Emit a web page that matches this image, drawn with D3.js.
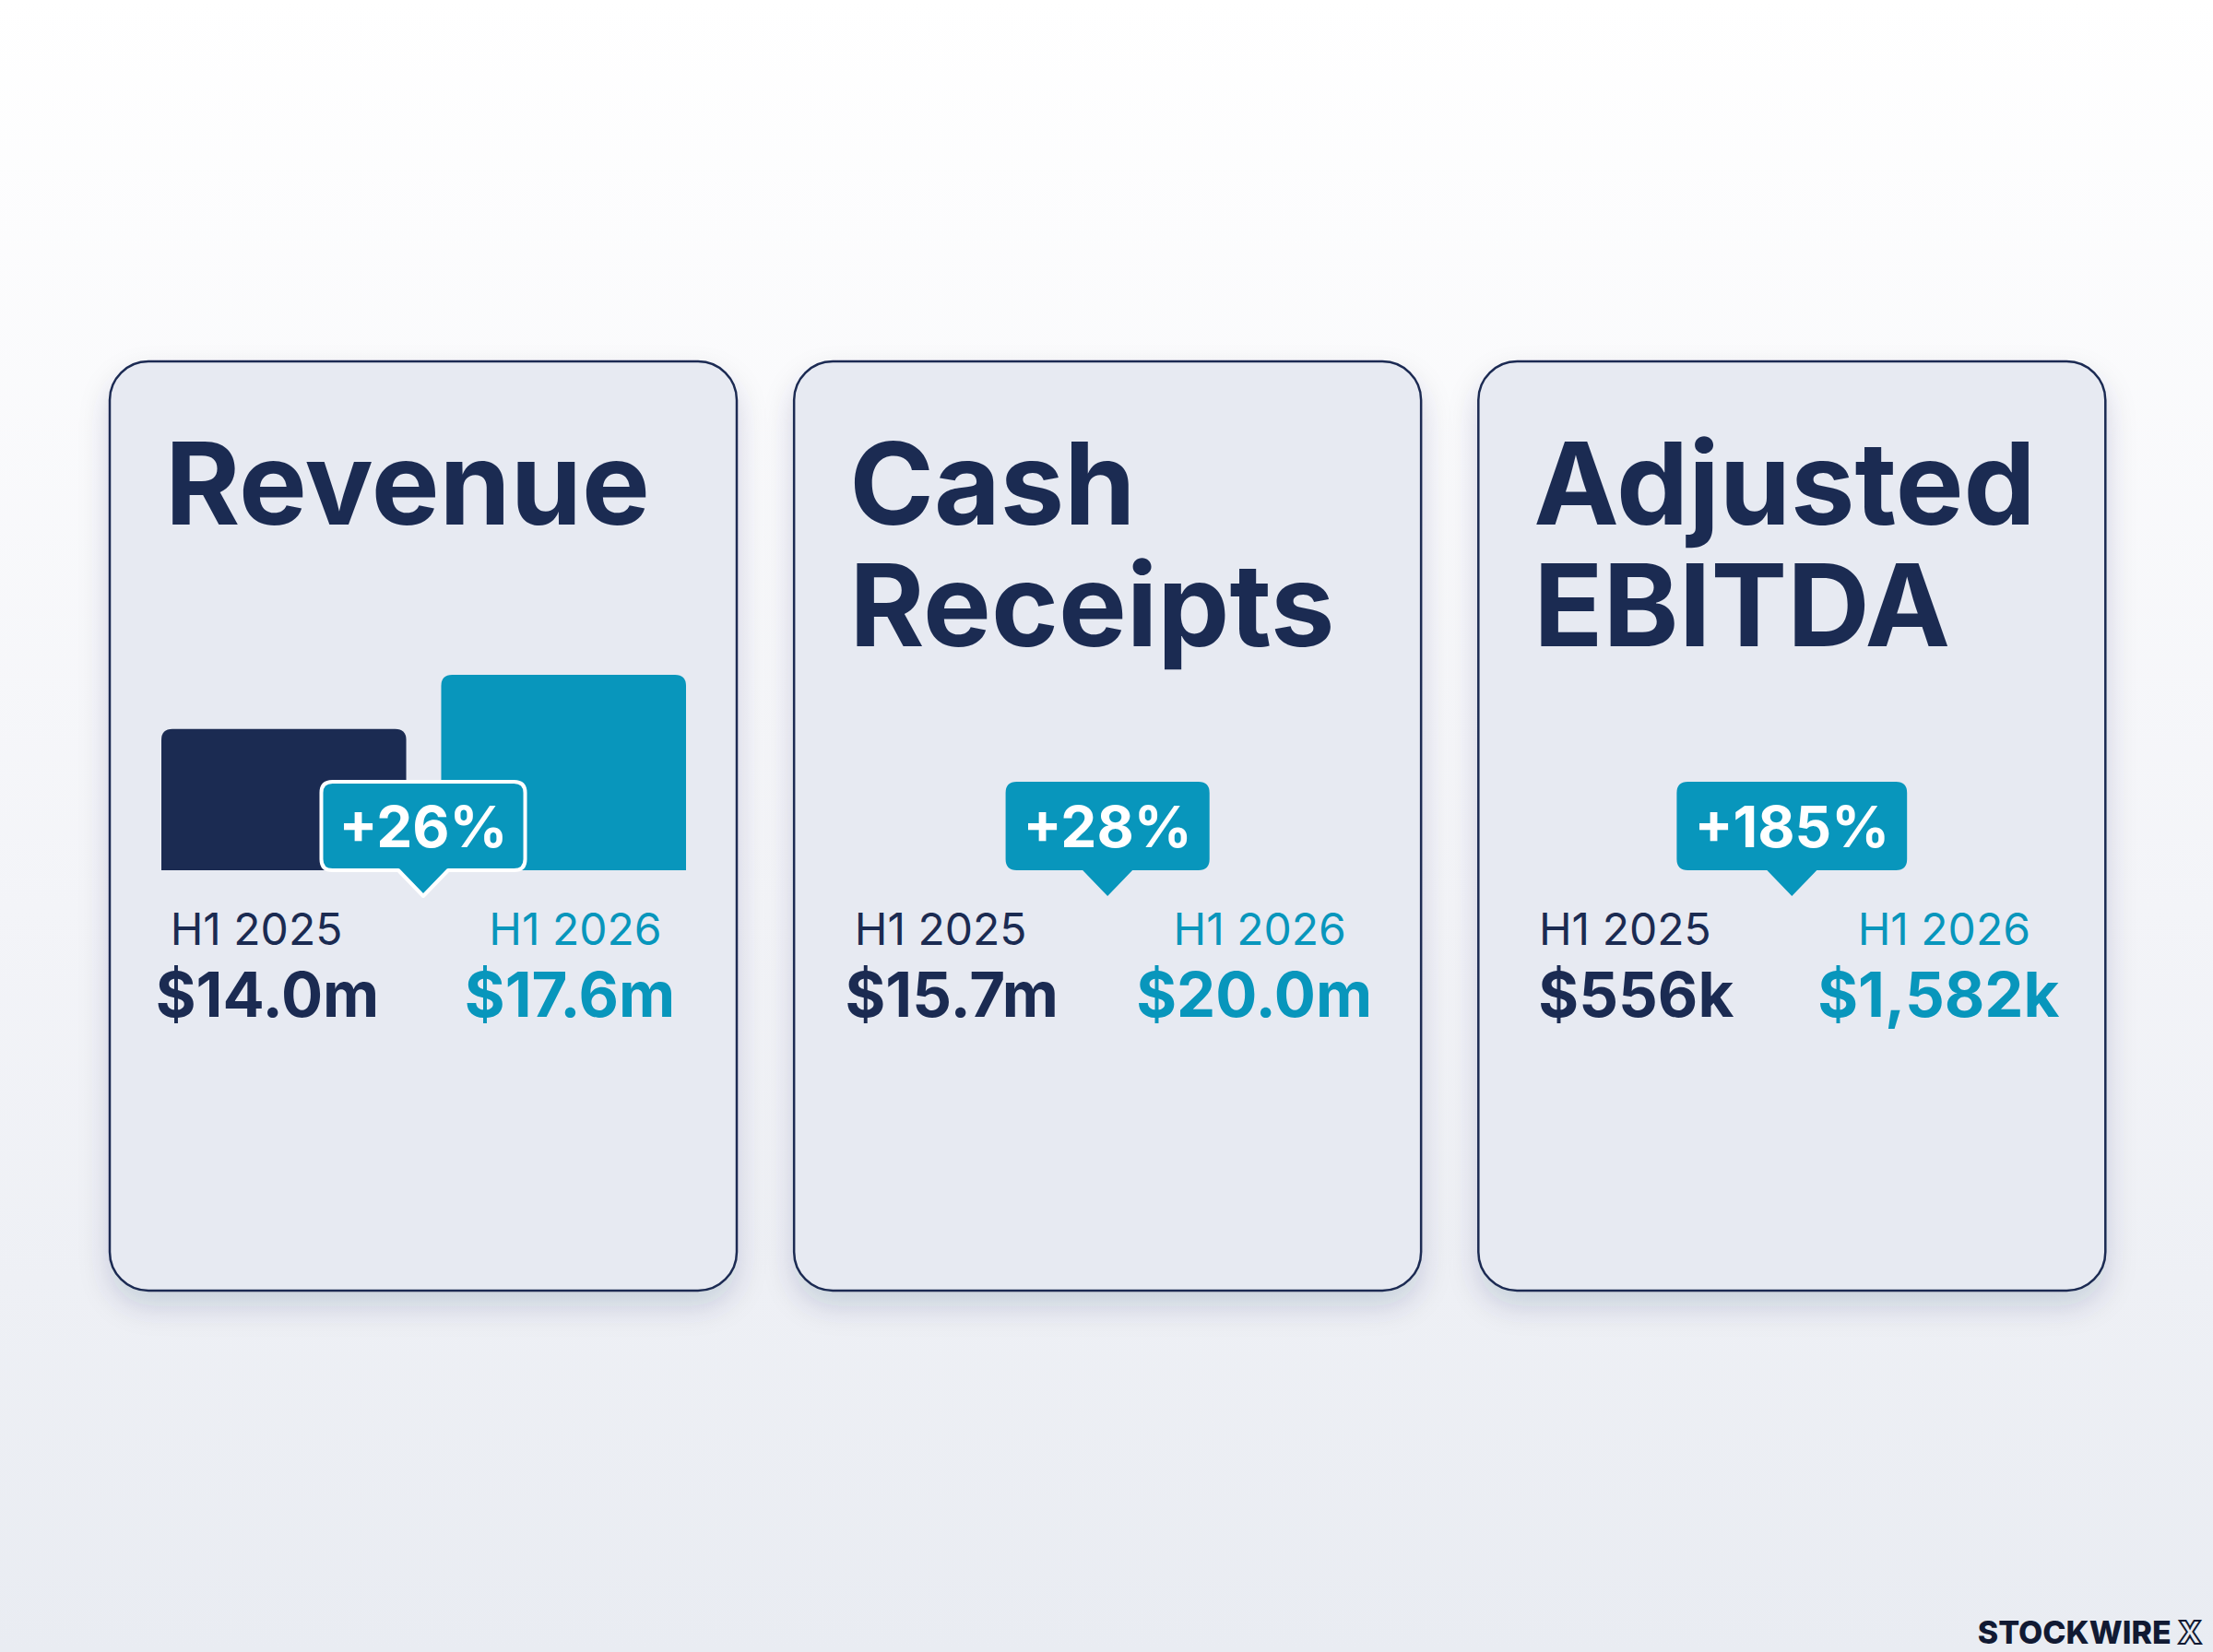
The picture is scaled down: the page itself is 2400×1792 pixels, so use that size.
<!DOCTYPE html>
<html>
<head>
<meta charset="utf-8">
<script src="https://cdn.jsdelivr.net/npm/d3@7"></script>
<style>
  html, body { margin: 0; padding: 0; background: #fff; }
  svg { display: block; }
</style>
</head>
<body>
<svg id="chart" width="2400" height="1792"></svg>
<script>
// data
let metricTitles = [["Revenue"], ["Cash", "Receipts"], ["Adjusted", "EBITDA"]];
let periods = ["H1 2025", "H1 2026"];
let priorValues = [14.0, 15.7, 556];
let currentValues = [17.6, 20.0, 1582];
let valueUnits = ["m", "m", "k"];
let valueFormats = [".1f", ".1f", ","];
let growthLabels = ["+26%", "+28%", "+185%"];
let showBars = [true, false, false];

let W = 2400, H = 1792;
let navy = "#1b2b52", teal = "#0896bc", cardFill = "#e7eaf2";
let fontFamily = "Inter, 'Noto Sans', sans-serif";

let svg = d3.select("#chart");
let defs = svg.append("defs");

let bg = defs.append("linearGradient").attr("id", "bg").attr("x1", 0).attr("y1", 0).attr("x2", 0).attr("y2", 1);
bg.append("stop").attr("offset", "0%").attr("stop-color", "#ffffff");
bg.append("stop").attr("offset", "55%").attr("stop-color", "#f3f4f8");
bg.append("stop").attr("offset", "100%").attr("stop-color", "#e9ecf2");

defs.append("filter").attr("id", "shadow")
    .attr("x", "-20%").attr("y", "-20%").attr("width", "140%").attr("height", "140%")
    .append("feDropShadow")
    .attr("dx", 0).attr("dy", 16).attr("stdDeviation", 16)
    .attr("flood-color", navy).attr("flood-opacity", 0.16);

svg.append("rect").attr("width", W).attr("height", H).attr("fill", "url(#bg)");

// card layout
let cardW = 680, cardH = 1008, cardTop = 392;
let cardX = d3.scaleBand().domain(d3.range(metricTitles.length)).range([119, 2282]).paddingInner(0.0855);

let badgeTop = 848, badgeH = 96, tipH = 28, tipW = 54;
let labelY = 1025, valueY = 1103;
let labelOffsets = [-181, 165], valueOffsets = [-169, 159];

// bars (only revenue card), truncated value axis like the original
let barX = d3.scaleBand().domain(periods).range([56, 625]).paddingInner(0.125);
let barY = d3.scaleLinear().domain([4.6, 17.6]).range([944, 732]);

let topRoundedBar = (x, y0, w, y1, r) =>
    "M" + x + "," + y1 +
    "V" + (y0 + r) +
    "Q" + x + "," + y0 + " " + (x + r) + "," + y0 +
    "H" + (x + w - r) +
    "Q" + (x + w) + "," + y0 + " " + (x + w) + "," + (y0 + r) +
    "V" + y1 + "Z";

metricTitles.forEach((lines, i) => {
    let g = svg.append("g").attr("transform", "translate(" + cardX(i) + ",0)");

    g.append("rect")
        .attr("x", 0).attr("y", cardTop)
        .attr("width", cardW).attr("height", cardH)
        .attr("rx", 42).attr("ry", 42)
        .attr("fill", cardFill)
        .attr("stroke", navy).attr("stroke-width", 2.5)
        .attr("filter", "url(#shadow)");

    // title, one text with a tspan per line
    let title = g.append("text")
        .attr("y", 569)
        .attr("fill", navy)
        .style("font-family", fontFamily)
        .style("font-weight", 700)
        .style("font-size", "124px");
    lines.forEach((line, j) => {
        title.append("tspan")
            .attr("x", 60)
            .attr("dy", j == 0 ? 0 : 132)
            .text(line);
    });

    let vals = [priorValues[i], currentValues[i]];

    if (showBars[i]) {
        g.selectAll(".bar").data(vals).enter().append("path")
            .attr("class", "bar")
            .attr("fill", (d, k) => k == 0 ? navy : teal)
            .attr("d", (d, k) => topRoundedBar(barX(periods[k]), barY(d), barX.bandwidth(), barY(barY.domain()[0]), 12));
    }

    // growth badge
    let mid = cardW / 2;
    let badge = g.append("g");
    let bText = badge.append("text")
        .attr("x", mid).attr("y", badgeTop + badgeH / 2)
        .attr("text-anchor", "middle")
        .attr("dominant-baseline", "central")
        .attr("fill", "#ffffff")
        .style("font-family", fontFamily)
        .style("font-weight", 700)
        .style("font-size", "62px")
        .text(growthLabels[i]);
    let tw = bText.node().getComputedTextLength();
    let bw = tw + 38;
    let bx = mid - bw / 2, r = 12, by = badgeTop, bb = badgeTop + badgeH;
    let bubble =
        "M" + (bx + r) + "," + by +
        "H" + (bx + bw - r) +
        "Q" + (bx + bw) + "," + by + " " + (bx + bw) + "," + (by + r) +
        "V" + (bb - r) +
        "Q" + (bx + bw) + "," + bb + " " + (bx + bw - r) + "," + bb +
        "H" + (mid + tipW / 2) +
        "L" + mid + "," + (bb + tipH) +
        "L" + (mid - tipW / 2) + "," + bb +
        "H" + (bx + r) +
        "Q" + bx + "," + bb + " " + bx + "," + (bb - r) +
        "V" + (by + r) +
        "Q" + bx + "," + by + " " + (bx + r) + "," + by + "Z";
    badge.insert("path", "text")
        .attr("d", bubble)
        .attr("fill", teal)
        .attr("stroke", showBars[i] ? "#ffffff" : "none")
        .attr("stroke-width", 4)
        .attr("stroke-linejoin", "round");

    // period labels and values
    let fmt = d3.format(valueFormats[i]);
    vals.forEach((v, k) => {
        let color = k == 0 ? navy : teal;
        g.append("text")
            .attr("x", mid + labelOffsets[k]).attr("y", labelY)
            .attr("text-anchor", "middle")
            .attr("fill", color)
            .style("font-family", fontFamily)
            .style("font-weight", 400)
            .style("font-size", "48px")
            .text(periods[k]);
        g.append("text")
            .attr("x", mid + valueOffsets[k]).attr("y", valueY)
            .attr("text-anchor", "middle")
            .attr("fill", color)
            .style("font-family", fontFamily)
            .style("font-weight", 700)
            .style("font-size", "67px")
            .text("$" + fmt(v) + valueUnits[i]);
    });
});

// watermark
let wm = svg.append("text")
    .attr("x", 2388).attr("y", 1783)
    .attr("text-anchor", "end")
    .style("font-family", fontFamily)
    .style("font-weight", 800)
    .style("font-size", "34px");
wm.append("tspan").attr("fill", "#111a33").text("STOCKWIRE ");
wm.append("tspan").attr("fill", "none").attr("stroke", "#111a33").attr("stroke-width", 2).text("X");
</script>
</body>
</html>
